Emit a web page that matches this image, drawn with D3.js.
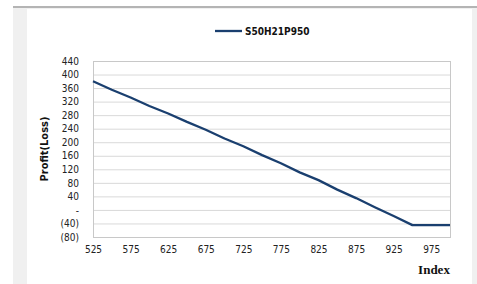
<!DOCTYPE html>
<html><head><meta charset="utf-8">
<script src="https://cdn.jsdelivr.net/npm/d3@7"></script>
<style>body{margin:0;background:#fff;}svg{display:block;}</style>
</head><body>
<script>
const seriesName = "S50H21P950";
const indexValues = [525,550,575,600,625,650,675,700,725,750,775,800,825,850,875,900,925,950,975,1000];
const profitValues = [380,355,332,307,285,260,237,211,188,162,138,111,88,60,35,8,-18,-45,-45,-45];
const xTicks = [525,575,625,675,725,775,825,875,925,975];
const yTicks = [440,400,360,320,280,240,200,160,120,80,40,0,-40,-80];

const W = 477, H = 284;
const FONT = "'DejaVu Sans Condensed', 'DejaVu Sans', sans-serif";
const svg = d3.select("body").append("svg").attr("width", W).attr("height", H);

// frame / background
svg.append("rect").attr("x",13).attr("y",7).attr("width",464).attr("height",H-7).attr("fill","#f0f0f0");
svg.append("rect").attr("x",27).attr("y",9).attr("width",445).attr("height",H-9).attr("fill","#fff");
svg.append("rect").attr("x",13).attr("y",6).attr("width",464).attr("height",2).attr("fill","#b4b4b4");

const L = 93, R = 450, T = 61, B = 237;
const x = d3.scaleLinear().domain([525,1000]).range([L,R]);
const y = d3.scaleLinear().domain([-80,440]).range([B,T]);

const fmt = v => v === 0 ? "-" : (v < 0 ? "(" + Math.abs(v) + ")" : String(v));

// gridlines
svg.append("g").selectAll("line").data(yTicks).join("line")
  .attr("x1",L).attr("x2",R).attr("y1",d=>y(d)+0.5).attr("y2",d=>y(d)+0.5)
  .attr("stroke","#d9d9d9").attr("stroke-width",1);
// plot border
svg.append("rect").attr("x",L+0.5).attr("y",T+0.5).attr("width",R-L).attr("height",B-T)
  .attr("fill","none").attr("stroke","#c8c8c8");

// y axis labels
const yAxis = d3.axisLeft(y).tickValues(yTicks).tickFormat(fmt).tickSize(0).tickPadding(14);
const gy = svg.append("g").attr("transform",`translate(${L},0)`).call(yAxis);
gy.select(".domain").remove();
gy.selectAll("text").attr("font-family",FONT).attr("font-size","10px").attr("fill","#222");

// x axis labels
const xAxis = d3.axisBottom(x).tickValues(xTicks).tickFormat(d3.format("d")).tickSize(0).tickPadding(9);
const gx = svg.append("g").attr("transform",`translate(0,${B})`).call(xAxis);
gx.select(".domain").remove();
gx.selectAll("text").attr("font-family",FONT).attr("font-size","10px").attr("fill","#222");

// line
const line = d3.line().x((d,i)=>x(indexValues[i])).y(d=>y(d));
svg.append("path").datum(profitValues).attr("d",line)
  .attr("fill","none").attr("stroke","#1a3f6f").attr("stroke-width",2.3).attr("stroke-linejoin","round");

// axis titles
svg.append("text").attr("transform",`translate(48,${(T+B)/2}) rotate(-90)`)
  .attr("text-anchor","middle").attr("font-family",FONT)
  .attr("font-weight","bold").attr("font-size","11px").attr("fill","#111").text("Profit(Loss)");
svg.append("text").attr("x",434).attr("y",274).attr("text-anchor","middle")
  .attr("font-family","Liberation Serif, Times New Roman, serif").attr("font-weight","bold")
  .attr("font-size","13px").attr("fill","#111").text("Index");

// legend
svg.append("line").attr("x1",215).attr("x2",242).attr("y1",31).attr("y2",31)
  .attr("stroke","#1a3f6f").attr("stroke-width",2.3);
svg.append("text").attr("x",245).attr("y",35).attr("font-family",FONT)
  .attr("font-weight","bold").attr("font-size","10px").attr("fill","#111").text(seriesName);
</script>
</body></html>
